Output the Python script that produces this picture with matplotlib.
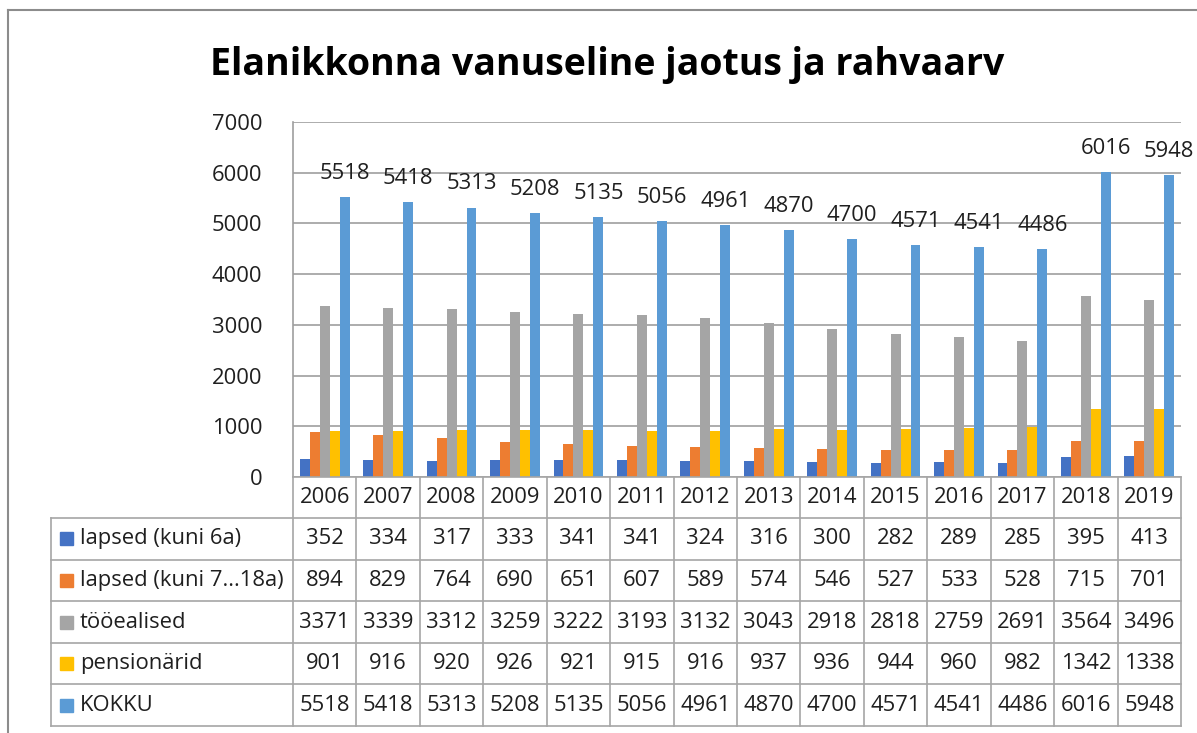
import numpy as np
import matplotlib
matplotlib.use("Agg")
import matplotlib.pyplot as plt
from matplotlib.lines import Line2D
from matplotlib.patches import Rectangle

years = [2006, 2007, 2008, 2009, 2010, 2011, 2012, 2013, 2014, 2015, 2016, 2017, 2018, 2019]
series_names = ["lapsed (kuni 6a)", "lapsed (kuni 7...18a)", "tööealised", "pensionärid", "KOKKU"]
lapsed_6 = [352, 334, 317, 333, 341, 341, 324, 316, 300, 282, 289, 285, 395, 413]
lapsed_18 = [894, 829, 764, 690, 651, 607, 589, 574, 546, 527, 533, 528, 715, 701]
tooealised = [3371, 3339, 3312, 3259, 3222, 3193, 3132, 3043, 2918, 2818, 2759, 2691, 3564, 3496]
pensionarid = [901, 916, 920, 926, 921, 915, 916, 937, 936, 944, 960, 982, 1342, 1338]
kokku = [5518, 5418, 5313, 5208, 5135, 5056, 4961, 4870, 4700, 4571, 4541, 4486, 6016, 5948]
colors = ["#4472C4", "#ED7D31", "#A5A5A5", "#FFC000", "#5B9BD5"]

W, H = 1197, 733
plt.rcParams["font.family"] = ["Open Sans", "DejaVu Sans"]
fs = 15.8
txt_col = "#1F1F1F"

fig = plt.figure(figsize=(W / 100, H / 100), dpi=100)


def fx(x):
    return x / W


def fy(y):
    return 1 - y / H


# plot area in pixels
L, R, T, B = 293, 1181, 122, 477
ax = fig.add_axes([fx(L), fy(B), fx(R) - fx(L), fy(T) - fy(B)])

data = [lapsed_6, lapsed_18, tooealised, pensionarid, kokku]
n = len(years)
x = np.arange(n)
w = 0.157
for k, vals in enumerate(data):
    ax.bar(x + (k - 2) * w, vals, width=w, color=colors[k], zorder=3)

# labels on total bars
for i, v in enumerate(kokku):
    ax.annotate(str(v), (x[i] + 2 * w, v), xytext=(0, 13), textcoords="offset points",
                ha="center", va="baseline", fontsize=fs, color=txt_col, zorder=4)

ax.set_xlim(-0.5, n - 0.5)
ax.set_ylim(0, 7000)
ax.set_yticks(np.arange(0, 7001, 1000))
ax.tick_params(axis="y", length=0, labelsize=fs, labelcolor=txt_col, pad=22)
ax.set_xticks([])
ax.grid(axis="y", color="#9E9E9E", lw=1.2, zorder=0)
for s in ["top", "right", "bottom"]:
    ax.spines[s].set_visible(False)
ax.spines["left"].set_color("#9E9E9E")
ax.spines["left"].set_linewidth(1.2)

# title
fig.text(fx(607), fy(75), "Elanikkonna vanuseline jaotus ja rahvaarv", ha="center", va="baseline",
         fontsize=27, fontweight="bold", color="black")

# data table
tl = 51
col_w = (R - L) / n
hdr_bot = 518
row_h = 41.6
rows_bot = [hdr_bot + row_h * (r + 1) for r in range(5)]
line_kw = dict(color="#A6A6A6", lw=1.2, transform=fig.transFigure)

# horizontal lines
fig.add_artist(Line2D([fx(L), fx(R)], [fy(B), fy(B)], **line_kw))
fig.add_artist(Line2D([fx(tl), fx(R)], [fy(hdr_bot), fy(hdr_bot)], **line_kw))
for yb in rows_bot:
    fig.add_artist(Line2D([fx(tl), fx(R)], [fy(yb), fy(yb)], **line_kw))
# vertical lines
fig.add_artist(Line2D([fx(tl), fx(tl)], [fy(hdr_bot), fy(rows_bot[-1])], **line_kw))
for j in range(n + 1):
    xv = L + j * col_w
    fig.add_artist(Line2D([fx(xv), fx(xv)], [fy(B), fy(rows_bot[-1])], **line_kw))

# header
for j, yr in enumerate(years):
    fig.text(fx(L + (j + 0.5) * col_w), fy((B + hdr_bot) / 2), str(yr), ha="center", va="center",
             fontsize=fs, color=txt_col)

for r, (name, vals) in enumerate(zip(series_names, data)):
    yc = hdr_bot + row_h * (r + 0.5)
    fig.add_artist(Rectangle((fx(60), fy(yc + 6.5)), fx(13), 13 / H, color=colors[r],
                             transform=fig.transFigure))
    fig.text(fx(80), fy(yc), name, ha="left", va="center", fontsize=fs, color=txt_col)
    for j, v in enumerate(vals):
        fig.text(fx(L + (j + 0.5) * col_w), fy(yc), str(v), ha="center", va="center",
                 fontsize=fs, color=txt_col)

# outer chart border (cropped on right/bottom)
border_kw = dict(color="#8C8C8C", lw=1.5, transform=fig.transFigure)
fig.add_artist(Line2D([fx(8), fx(8)], [fy(10), 0], **border_kw))
fig.add_artist(Line2D([fx(8), 1], [fy(10), fy(10)], **border_kw))

fig.savefig("out.png", dpi=100, facecolor="white")
